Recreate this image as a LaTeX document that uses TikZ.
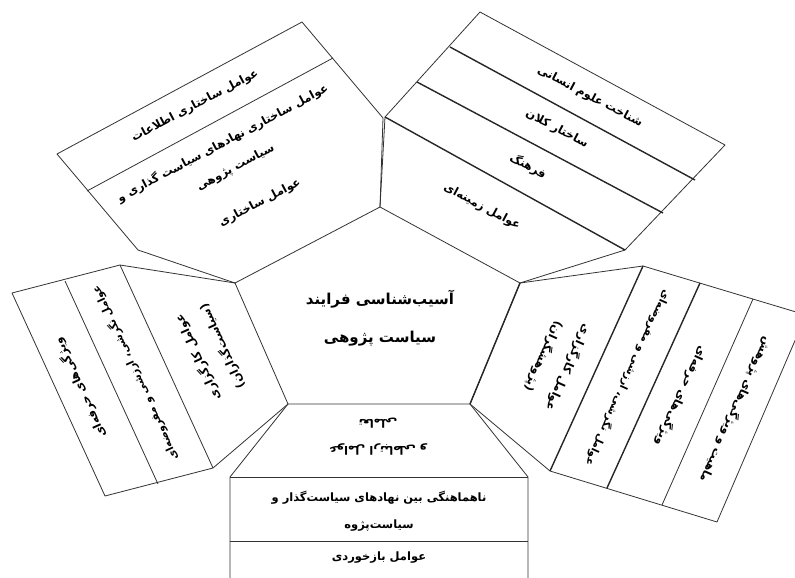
\documentclass[tikz,border=0pt]{standalone}
\usepackage{fontspec}
\newfontfamily\fa[Script=Arabic]{DejaVu Sans}
\TeXXeTstate=1
\newcommand\RL[1]{\beginR #1\endR}
\begin{document}
\begin{tikzpicture}[x=1pt,y=-1pt,line join=round,
  ln/.style={draw=black!80,line width=0.8pt},
  sep/.style={draw=black!80,line width=0.8pt},
  tk/.style={draw=black!85,line width=1.4pt},
  lab/.style={font=\fa\bfseries\fontsize{11.5}{27}\selectfont,align=center,inner sep=0pt},
  labs/.style={font=\fa\bfseries\fontsize{10.6}{25}\selectfont,align=center,inner sep=0pt},
  ttl/.style={font=\fa\bfseries\fontsize{15}{38}\selectfont,align=center,inner sep=0pt}]
\useasboundingbox (0,0) rectangle (795,578);
\fill[white] (0,0) rectangle (795,578);
% pentagon
\coordinate (T) at (380,207);
\coordinate (R) at (520,283);
\coordinate (BR) at (470,404);
\coordinate (BL) at (288,404);
\coordinate (L) at (235,283);
% top-left block
\coordinate (A) at (57,154);
\coordinate (B) at (302,22);
\coordinate (S1L) at (87,191);
\coordinate (S1R) at (333,58);
\coordinate (C) at (138,250);
\coordinate (D) at (383,118);
% top-right block
\coordinate (E) at (480,12);
\coordinate (F) at (725,145);
\coordinate (G1) at (450,47);
\coordinate (H1) at (695,180);
\coordinate (G2) at (417,82);
\coordinate (H2) at (663,213);
\coordinate (G3) at (385,117);
\coordinate (H3) at (625,250);
% left block
\coordinate (LT1) at (120,265);
\coordinate (LB1) at (213,468);
\coordinate (LT2) at (65,281);
\coordinate (LB2) at (158,484);
\coordinate (LT3) at (12,293);
\coordinate (LB3) at (105,496);
% right block
\coordinate (RT1) at (643,266);
\coordinate (RB1) at (550,471);
\coordinate (RT2) at (700,283);
\coordinate (RB2) at (607,488);
\coordinate (RT3) at (753,299);
\coordinate (RB3) at (662,505);
\coordinate (RT4) at (806,315);
\coordinate (RB4) at (717,522);
% bottom block
\coordinate (K1L) at (230,477);
\coordinate (K1R) at (528,477);
\coordinate (K2L) at (230,541);
\coordinate (K2R) at (528,541);
\coordinate (K3L) at (230,605);
\coordinate (K3R) at (528,605);

\draw[ln] (T)--(R)--(BR)--(BL)--(L)--cycle;
% top-left
\draw[ln] (L)--(C)--(A)--(B)--(D)--(T);
\draw[sep] (S1L)--(S1R);
% top-right
\draw[ln] (T)--(G3)--(E)--(F)--(H3)--(R);
\draw[tk] (G1)--(H1);
\draw[tk] (G2)--(H2);
\draw[tk] (G3)--(H3);
% left
\draw[ln] (L)--(LT1)--(LT3)--(LB3)--(LB1)--(BL);
\draw[sep] (LT1)--(LB1);
\draw[sep] (LT2)--(LB2);
% right
\draw[ln] (R)--(RT1)--(RT4)--(RB4)--(RB1)--(BR);
\draw[tk] (R)--(BR);
\draw[tk] (RT1)--(RB1);
\draw[tk] (RT2)--(RB2);
\draw[sep] (RT3)--(RB3);
% bottom
\draw[ln] (BL)--(K1L)--(K3L)--(K3R)--(K1R)--(BR);
\draw[sep] (K1L)--(K1R);
\draw[sep] (K2L)--(K2R);

% texts
\node[ttl] (ctr) at (380,318) {\RL{آسیب‌شناسی فرایند}\\\RL{سیاست پژوهی}};

\node[lab,rotate=28] (tl1) at (195,106) {\RL{عوامل ساختاری اطلاعات}};
\node[lab,rotate=28] (tl2) at (229,155) {\RL{عوامل ساختاری نهادهای سیاست گذاری و}\\\RL{سیاست پژوهی}};
\node[lab,rotate=28] (tl3) at (260,203) {\RL{عوامل ساختاری}};

\node[lab,rotate=-28] (tr1) at (590,97) {\RL{شناخت علوم انسانی}};
\node[lab,rotate=-28] (tr2) at (557,129) {\RL{ساختار کلان}};
\node[lab,rotate=-28] (tr3) at (528,166) {\RL{فرهنگ}};
\node[lab,rotate=-28] (tr4) at (482,207) {\RL{عوامل زمینه‌ای}};

\node[lab,rotate=114.6] (l1) at (210,352) {\RL{عوامل کارگزاری}\\\RL{(سیاست‌گذاران)}};
\node[labs,rotate=114.6] (l2) at (135,373) {\RL{عوامل نگرشی، ارزشی و مفروضه‌ای}};
\node[lab,rotate=114.6] (l3) at (80,388) {\RL{ویژگی‌های حرفه‌ای}};

\node[lab,rotate=245.6] (r1) at (556,362) {\RL{عوامل کارگزاری}\\\RL{(پژوهشگران)}};
\node[labs,rotate=245.6] (r2) at (628,378) {\RL{عوامل نگرشی، ارزشی و مفروضه‌ای}};
\node[lab,rotate=245.6] (r3) at (681,396) {\RL{ویژگی‌های حرفه‌ای}};
\node[lab,rotate=245.6] (r4) at (736,410) {\RL{ماهیت و ویژگی‌های پژوهش}};

\node[lab,rotate=180] (b1) at (378,437) {\RL{عوامل ارتباطی و}\\\RL{تعاملی}};
\node[lab] (b2) at (379,511) {\RL{ناهماهنگی بین نهادهای سیاست‌گذار و}\\\RL{سیاست‌پژوه}};
\node[lab] (b3) at (379,558) {\RL{عوامل بازخوردی}};
\end{tikzpicture}
\end{document}
